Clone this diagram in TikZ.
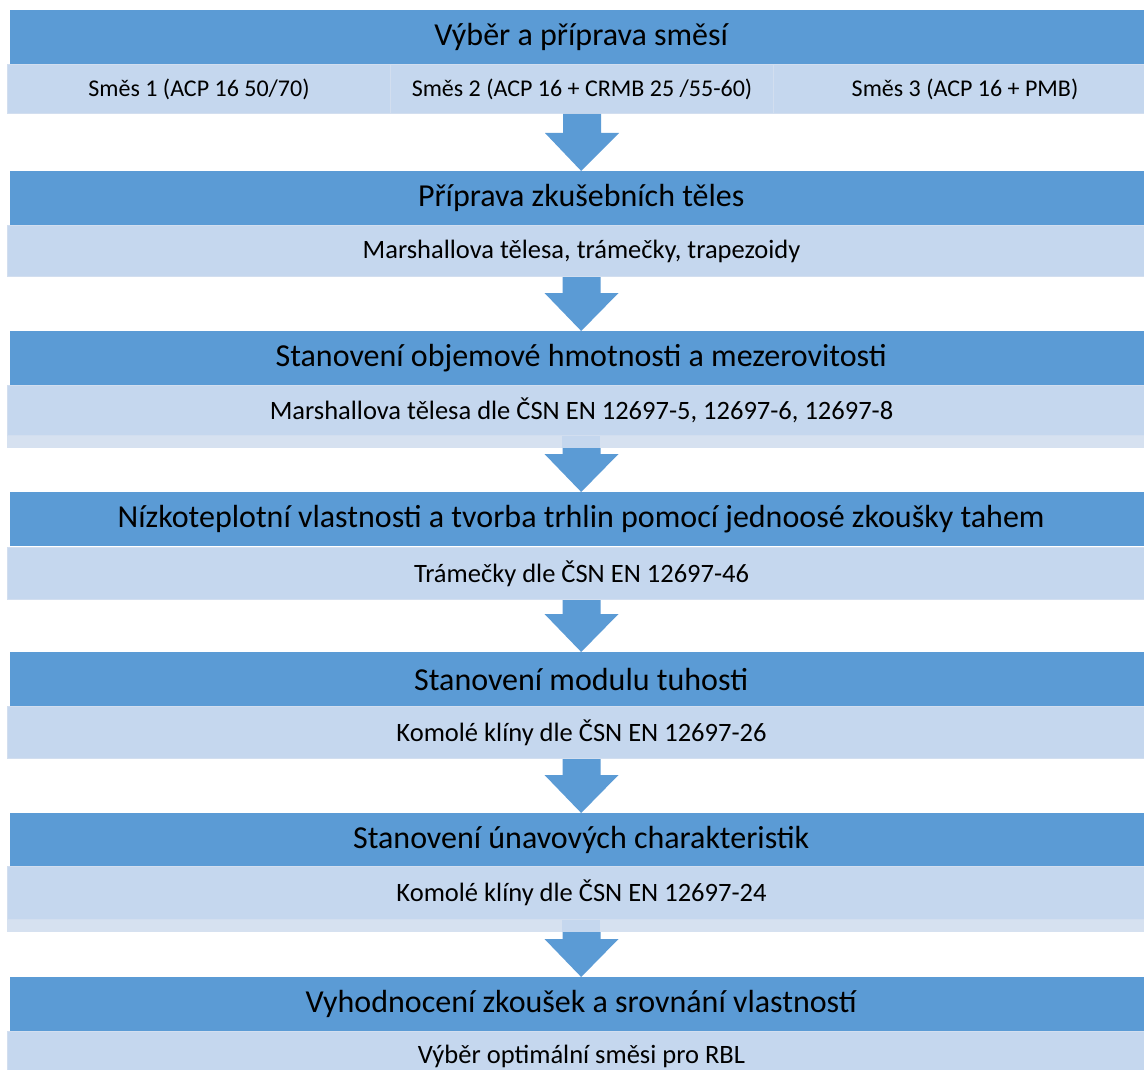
\documentclass[tikz,border=0pt]{standalone}
\usepackage{fontspec}
\setmainfont{Carlito}
\usetikzlibrary{calc}
\definecolor{darkc}{HTML}{5B9BD5}
\definecolor{lightc}{HTML}{C5D7EE}
\definecolor{stripc}{HTML}{D6E1F0}
\definecolor{edgec}{HTML}{D2DEEF}
\tikzset{
  darkband/.style={fill=darkc, draw=none, anchor=north west, minimum width=1142pt,
    minimum height=54pt, inner sep=0pt, font=\fontsize{32}{36}\selectfont, text=black},
  lightband/.style={fill=lightc, draw=edgec, line width=1pt, anchor=north west,
    minimum width=1148pt, inner sep=0pt, font=\fontsize{26.5}{30}\selectfont, text=black},
  cellbox/.style={lightband, minimum width=383pt, font=\fontsize{24}{28}\selectfont},
  stripbox/.style={fill=stripc, draw=none, anchor=north west, minimum width=1148pt,
    minimum height=12pt, inner sep=0pt},
  flowarrow/.style={fill=darkc, draw=none},
}
\newcommand{\flowarr}[2]{%
  \fill[flowarrow] let \p1=(#1.south), \p2=(#2.north) in
    (\x1-19pt,\y1) -- (\x1-19pt,\y2+38pt) -- (\x1-37pt,\y2+38pt) -- (\x2,\y2)
    -- (\x1+37pt,\y2+38pt) -- (\x1+19pt,\y2+38pt) -- (\x1+19pt,\y1) -- cycle;}
\begin{document}
\begin{tikzpicture}[x=1pt,y=-1pt]
\path[use as bounding box, clip] (0,0) rectangle (1144,1070);
\fill[white] (0,0) rectangle (1144,1070);

% Band 1
\node[darkband] (d1) at (10,10) {Výběr a příprava směsí};
\node[cellbox, minimum height=49pt] (c1) at (7,64) {Směs 1 (ACP 16 50/70)};
\node[cellbox, minimum height=49pt] (c2) at (390,64) {Směs 2 (ACP 16 + CRMB 25 /55-60)};
\node[cellbox, minimum height=49pt] (c3) at (773,64) {Směs 3 (ACP 16 + PMB)};
\path (c1.south west) -- (c3.south east) coordinate[pos=0.5] (l1);

% Band 2
\node[darkband] (d2) at (10,171) {Příprava zkušebních těles};
\node[lightband, minimum height=51pt] (l2) at (7,225) {Marshallova tělesa, trámečky, trapezoidy};

% Band 3
\node[darkband] (d3) at (10,331) {Stanovení objemové hmotnosti a mezerovitosti};
\node[lightband, minimum height=50pt] (l3) at (7,385) {Marshallova tělesa dle ČSN EN 12697-5, 12697-6, 12697-8};

% Band 4
\node[darkband] (d4) at (10,492) {Nízkoteplotní vlastnosti a tvorba trhlin pomocí jednoosé zkoušky tahem};
\node[lightband, minimum height=52pt] (l4) at (7,547) {Trámečky dle ČSN EN 12697-46};

% Band 5
\node[darkband] (d5) at (10,652) {Stanovení modulu tuhosti};
\node[lightband, minimum height=52pt] (l5) at (7,706) {Komolé klíny dle ČSN EN 12697-26};

% Band 6
\node[darkband] (d6) at (10,813) {Stanovení únavových charakteristik};
\node[lightband, minimum height=53pt] (l6) at (7,866) {Komolé klíny dle ČSN EN 12697-24};

% Band 7
\node[darkband] (d7) at (10,977) {Vyhodnocení zkoušek a srovnání vlastností};
\node[lightband, minimum height=50pt] (l7) at (7,1031) {Výběr optimální směsi pro RBL};

% Arrows
\fill[flowarrow] let \p1=(l1), \p2=(d2.north) in
    (\x1-19pt,\y1) -- (\x1-19pt,\y2+38pt) -- (\x1-37pt,\y2+38pt) -- (\x2,\y2)
    -- (\x1+37pt,\y2+38pt) -- (\x1+19pt,\y2+38pt) -- (\x1+19pt,\y1) -- cycle;
\flowarr{l2}{d3}
\flowarr{l3}{d4}
\flowarr{l4}{d5}
\flowarr{l5}{d6}
\flowarr{l6}{d7}

% lighter strips below bands 3 and 6
\node[stripbox] (s3) at (7,435.5) {};
\node[stripbox] (s6) at (7,919.5) {};
\fill[lightc] let \p1=(s3.north), \p2=(s3.south) in (\x1-19pt,\y1) rectangle (\x1+19pt,\y2);
\fill[lightc] let \p1=(s6.north), \p2=(s6.south) in (\x1-19pt,\y1) rectangle (\x1+19pt,\y2);
\end{tikzpicture}
\end{document}
